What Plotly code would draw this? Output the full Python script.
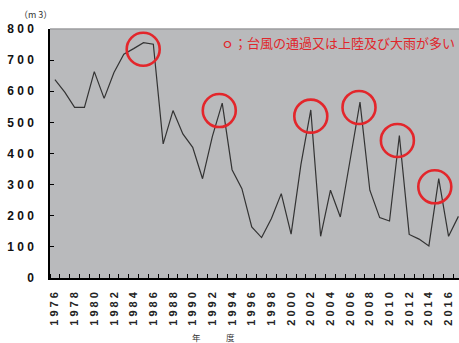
import plotly.graph_objects as go

# Annual volume (m3) by fiscal year
years = list(range(1976, 2018))
volumes = [637, 597, 548, 548, 663, 577, 660, 719, 737, 756,
           751, 431, 538, 463, 420, 319, 455, 562, 348, 287,
           164, 130, 191, 271, 141, 365, 540, 134, 282, 196,
           380, 565, 282, 194, 183, 458, 140, 125, 103, 319,
           134, 198]

# Years with many typhoon passages / landfalls and heavy rain (ring markers)
ring_years = [1984.97, 1992.7, 2002.0, 2006.9, 2010.8, 2014.6]
ring_values = [735, 538, 520, 548, 442, 293]

y_ticks = [0, 100, 200, 300, 400, 500, 600, 700, 800]
x_label_years = list(range(1976, 2017, 2))


def spaced(s):
    return "<b>" + " ".join(str(s)) + "</b>"


fig = go.Figure()

fig.add_trace(go.Scatter(
    x=years, y=volumes, mode="lines",
    line=dict(color="#333333", width=1.2),
    hoverinfo="skip", showlegend=False,
))

fig.add_trace(go.Scatter(
    x=ring_years, y=ring_values, mode="markers",
    marker=dict(symbol="circle-open", size=33,
                line=dict(color="#e3262b", width=2.6), color="#e3262b"),
    hoverinfo="skip", showlegend=False,
))

fig.update_layout(
    width=459, height=343,
    margin=dict(l=50, r=0, t=29, b=65),
    paper_bgcolor="white",
    plot_bgcolor="#b9babc",
    font=dict(family="Liberation Sans, Arial, sans-serif", color="#111111"),
    xaxis=dict(
        range=[1975.5, 2017.06],
        tickmode="array",
        tickvals=x_label_years,
        ticktext=[spaced(y) for y in x_label_years],
        tickangle=-90,
        tickfont=dict(size=11, color="#222222"),
        ticks="",
        ticklabelstandoff=8,
        showgrid=False, zeroline=False,
        showline=True, linecolor="black", linewidth=1.5,
        minor=dict(tick0=1976.5, dtick=1, ticks="inside", ticklen=4,
                   tickcolor="black", tickwidth=1, showgrid=False),
    ),
    yaxis=dict(
        range=[0, 800],
        tickmode="array",
        tickvals=y_ticks,
        ticktext=[spaced(v) for v in y_ticks],
        tickfont=dict(size=12, color="#111111"),
        ticks="inside", ticklen=4, tickcolor="black",
        ticklabelstandoff=12,
        showgrid=False, zeroline=False,
        showline=True, linecolor="black", linewidth=1.5,
    ),
    shapes=[dict(type="line", xref="paper", yref="paper",
                 x0=0, x1=1, y0=1, y1=1,
                 line=dict(color="#9d9d9f", width=1.5))],
    annotations=[
        dict(text="ｏ；台風の通過又は上陸及び大雨が多い",
             xref="paper", yref="paper", x=0.705, y=0.945,
             xanchor="center", yanchor="middle", showarrow=False,
             font=dict(family="Noto Sans CJK JP", size=13, color="#e0262b")),
        dict(text="（m 3）", xref="paper", yref="paper",
             x=-0.035, y=1.06, xanchor="center", yanchor="middle",
             showarrow=False,
             font=dict(family="Noto Sans CJK JP", size=9, color="#333333")),
        dict(text="年　　　度", xref="paper", yref="paper",
             x=(213.5 - 50) / 409, y=-0.235, xanchor="center",
             yanchor="middle", showarrow=False,
             font=dict(family="Noto Sans CJK JP", size=8.5, color="#333333")),
    ],
)

fig.write_html("out.html")
